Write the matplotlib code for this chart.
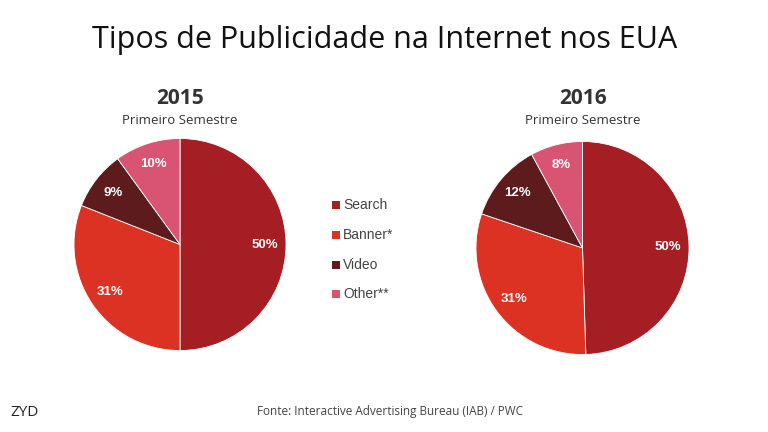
import matplotlib
matplotlib.use("Agg")
import matplotlib.pyplot as plt
from matplotlib.patches import Rectangle

categories = ["Search", "Banner*", "Video", "Other**"]
values_2015 = [50, 31, 9, 10]
values_2016 = [50, 31, 12, 8]
years = ["2015", "2016"]
colors = ["#A51E24", "#DC3223", "#5E1B1E", "#D95372"]

fig = plt.figure(figsize=(7.68, 4.32), dpi=100)
W, H = 768, 432

def ax_px(x0, y0, x1, y1):
    return fig.add_axes([x0 / W, 1 - y1 / H, (x1 - x0) / W, (y1 - y0) / H])

fig.text(385 / W, 1 - 40 / H, "Tipos de Publicidade na Internet nos EUA",
         ha="center", va="center", fontsize=22, family="Open Sans", color="#111111")

pies = [(values_2015, (74, 138, 286, 351), 180), (values_2016, (476, 141, 689, 355), 583)]
for (vals, box, cx), yr in zip(pies, years):
    ax = ax_px(*box)
    wedges, texts, autotexts = ax.pie(
        vals, colors=colors, startangle=90, counterclock=False,
        autopct=lambda p: f"{p:.0f}%", pctdistance=0.8,
        wedgeprops=dict(linewidth=0.6, edgecolor="white"),
        textprops=dict(color="white", fontsize=9.5, fontweight="bold", family="Liberation Sans"))
    ax.set_xlim(-1.0, 1.0)
    ax.set_ylim(-1.0, 1.0)
    ax.set_aspect("equal")
    ax.axis("off")
    fig.text(cx / W, 1 - 98 / H, yr, ha="center", va="center", fontsize=15,
             fontweight="bold", family="Open Sans", color="#333333")
    fig.text(cx / W, 1 - 121 / H, "Primeiro Semestre", ha="center", va="center",
             fontsize=9.5, family="Open Sans", color="#333333")

ys = [205, 235, 265, 294]
for cat, col, y in zip(categories, colors, ys):
    fig.patches.append(Rectangle(((332) / W, 1 - (y + 4) / H), 8 / W, 8 / H,
                                 transform=fig.transFigure, facecolor=col, edgecolor="none"))
    fig.text(343 / W, 1 - y / H, cat, ha="left", va="center", fontsize=10,
             family="Liberation Sans", color="#444444")

fig.text(10 / W, 1 - 413 / H, "ZYD", ha="left", va="center", fontsize=11,
         family="Open Sans", color="#222222")
fig.text(390 / W, 1 - 411 / H, "Fonte: Interactive Advertising Bureau (IAB) / PWC",
         ha="center", va="center", fontsize=8.5, family="Open Sans", color="#444444")

fig.savefig("out.png", dpi=100, facecolor="white")
